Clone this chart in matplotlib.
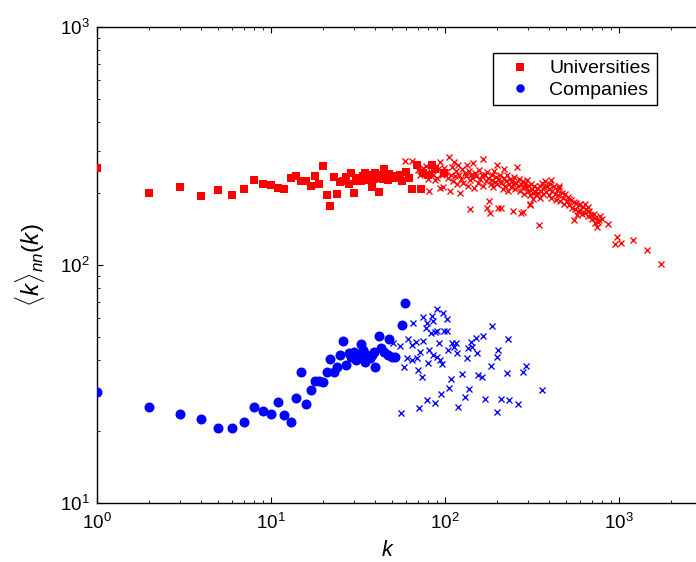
import math
import matplotlib
matplotlib.use("Agg")
import matplotlib.pyplot as plt
from matplotlib.ticker import LogLocator, FuncFormatter, NullFormatter

plt.rcParams['font.family'] = ['Liberation Sans', 'DejaVu Sans']
plt.rcParams['mathtext.fontset'] = 'custom'
plt.rcParams['mathtext.rm'] = 'Liberation Sans'
plt.rcParams['mathtext.it'] = 'Liberation Sans:italic'
plt.rcParams['mathtext.bf'] = 'Liberation Sans:bold'

# ---------------- data ----------------
uni_k = [1, 2, 3, 4, 5, 6, 7, 8, 9, 10, 11, 12, 13, 14, 15, 16, 17, 18, 19, 20,
         21, 22, 23, 24, 25, 26, 27, 28, 29, 30, 31, 32, 33, 34, 35, 36, 37, 38, 39, 40,
         41, 42, 43, 44, 45, 46, 47, 48, 50, 52, 55, 57, 60, 62, 65, 69, 73, 75, 80, 85,
         88, 99]
uni_v = [256, 200, 213, 195, 207, 197, 208, 228, 219, 217, 211, 208, 233, 237, 226, 226, 215, 237, 220, 261,
         196, 177, 235, 198, 224, 226, 235, 219, 244, 201, 226, 231, 225, 236, 243, 228, 240, 212, 230, 244,
         233, 203, 238, 229, 252, 232, 227, 241, 236, 231, 240, 226, 245, 232, 208, 263, 208, 244, 238, 263,
         252, 244]

comp_k = [1, 2, 3, 4, 5, 6, 7, 8, 9, 10, 11, 12, 13, 14, 15, 16, 17, 18, 19, 20,
          21, 22, 23, 24, 25, 26, 27, 28, 29, 30, 31, 32, 33, 34, 35, 36, 37, 38, 39, 40,
          42, 43, 45, 47, 48, 50, 52, 57, 59]
comp_v = [29.4, 25.4, 23.7, 22.5, 20.6, 20.7, 22.0, 25.2, 24.4, 23.7, 26.6, 23.4, 21.9, 27.6, 35.6, 26.0,
          29.8, 32.6, 32.7, 32.2, 35.6, 40.2, 35.6, 37.2, 41.9, 48.1, 38.0, 42.6, 41.0, 43.2, 39.9, 42.0,
          46.6, 44.0, 39.3, 42.0, 40.5, 41.9, 43.0, 37.4, 50.3, 44.7, 43.2, 41.9, 49.0, 41.0, 41.2, 56.0, 69.5]

uni_x_k = [59, 65, 70, 72, 75, 78, 80, 81, 83, 86, 88, 90, 92, 94, 94, 96, 98, 99,
           102, 104, 106, 107, 108, 110, 111, 113, 115, 116, 118, 120, 121, 122, 124, 126, 128, 130,
           132, 134, 136, 138, 139, 140, 142, 144, 146, 148, 150,
           152, 155, 158, 160, 163, 165, 167, 170, 172, 174, 176, 178, 180, 182, 184, 186, 188, 190,
           192, 195, 197, 199, 200, 203, 205, 207, 210, 212, 215, 218, 220, 222, 225, 228, 230, 233,
           236, 240, 243, 246, 248, 250,
           253, 256, 260, 263, 266, 270, 273, 276, 280, 283, 286, 290, 293, 297, 300, 304, 308, 310,
           313, 317, 320, 323, 327, 330, 335, 340, 345, 350, 352, 281, 309, 408,
           355, 360, 362, 368, 372, 378, 382, 388, 395, 400, 405, 410, 416, 422, 428, 434, 440, 448,
           455, 462, 470, 478, 486, 494, 502, 510, 520, 530, 540, 550, 560, 570, 580, 590, 600, 612,
           625, 638, 650, 662, 675, 690, 705, 720, 735, 748, 760, 771, 785, 800, 553, 598, 640, 456,
           516, 578, 665, 730,
           871, 952, 974, 1035, 1203, 1449, 1742]
uni_x_v = [273, 273, 250, 238, 255, 261, 230, 204, 245, 240, 228, 231, 252, 271, 210, 238, 213, 255,
           246, 232, 283, 204, 240, 258, 225, 271, 236, 248, 218, 263, 240, 200, 230, 252, 222, 244,
           236, 263, 215, 248, 172, 228, 240, 232, 267, 210, 244,
           236, 222, 250, 230, 240, 280, 214, 238, 226, 173, 245, 232, 185, 165, 220, 240, 228, 212,
           248, 224, 235, 263, 218, 173, 230, 240, 173, 222, 208, 254, 232, 215, 225, 238, 205, 220,
           230, 212, 226, 169, 218, 235,
           208, 222, 258, 214, 230, 204, 218, 166, 226, 210, 198, 220, 212, 228, 205, 215, 196, 179,
           220, 208, 200, 190, 214, 203, 196, 210, 200, 147, 192, 167, 181, 228,
           215, 205, 222, 198, 212, 226, 202, 214, 196, 208, 220, 192, 204, 214, 198, 188, 206, 196,
           210, 186, 200, 192, 180, 198, 186, 194, 178, 188, 174, 184, 172, 182, 168, 178, 170, 164,
           175, 166, 172, 160, 168, 162, 156, 164, 158, 145, 152, 154, 160, 156, 155, 180, 180, 214,
           190, 162, 176, 150,
           149, 122, 131, 124, 127, 116, 101]

comp_x_k = [50.2, 55.3, 58.6, 56.1, 61.8, 65.5, 64.6, 68.4, 60.5, 64.6, 69.0, 70.5, 73.8, 72.1, 75.4,
            75.4, 78.1, 78.8, 80.5, 81.5, 83.1, 84.2, 85.3, 86.0, 88.0, 89.9, 90.6, 90.6, 93.1, 94.0,
            96.1, 98.2, 99.1, 102.6, 102.6, 71.5, 79.4, 88.0, 94.8, 105.9, 104.9, 108.2, 109.7, 113.0,
            116.1, 117.2, 119.7, 126.2, 131.3, 134.9, 135.6, 137.4, 141.0, 142.9, 151.4, 152.7, 154.8,
            163.2, 166.7, 170.5, 184.5, 187.8, 199.0, 200.6, 203.2, 209.9, 227.2, 232.1, 235.0, 264.9,
            280.7, 293.2, 360.9]
comp_x_v = [47.2, 45.7, 37.2, 23.8, 48.7, 56.9, 46.1, 47.6, 40.6, 39.9, 40.6, 36.2, 34.0, 43.2, 60.7,
            48.1, 54.2, 56.9, 38.8, 44.0, 52.0, 61.1, 58.3, 41.9, 52.5, 40.9, 65.3, 52.9, 46.9, 39.9,
            38.4, 62.7, 52.9, 59.2, 52.9, 25.0, 27.1, 26.2, 28.7, 30.3, 44.0, 33.1, 46.9, 45.1,
            47.2, 42.6, 25.2, 34.8, 28.0, 40.6, 44.7, 30.1, 47.3, 45.1, 49.2, 42.6, 34.4,
            33.7, 50.3, 27.4, 37.8, 55.6, 41.2, 24.2, 44.0, 27.4, 35.1, 48.7, 27.1, 26.0,
            35.6, 37.8, 29.9]

legend_labels = ['Universities', 'Companies']
x_label = r'$k$'
y_label = r'$\langle k\rangle_{nn}(k)$'

# ---------------- figure ----------------
fig = plt.figure(figsize=(6.96, 5.62), dpi=100)
ax = fig.add_axes([96.7 / 696, 59 / 562, 696 / 696, 476 / 562])

h1, = ax.plot(uni_k, uni_v, 's', color='#ff0000', markersize=6.0, markeredgewidth=0,
              linestyle='none', label=legend_labels[0], zorder=3)
h2, = ax.plot(comp_k, comp_v, 'o', color='#0000ff', markersize=7.2, markeredgewidth=0,
              linestyle='none', label=legend_labels[1], zorder=3)
ax.plot(uni_x_k, uni_x_v, 'x', color='#ff0000', markersize=4.0, markeredgewidth=0.95,
        linestyle='none', zorder=4)
ax.plot(comp_x_k, comp_x_v, 'x', color='#0000ff', markersize=4.0, markeredgewidth=0.95,
        linestyle='none', zorder=4)

ax.set_xscale('log')
ax.set_yscale('log')
ax.set_xlim(1, 1e4)
ax.set_ylim(10, 1000)

ax.xaxis.set_major_locator(LogLocator(base=10, numticks=10))
ax.yaxis.set_major_locator(LogLocator(base=10, numticks=10))
ax.xaxis.set_minor_locator(LogLocator(base=10, subs=range(2, 10), numticks=20))
ax.yaxis.set_minor_locator(LogLocator(base=10, subs=range(2, 10), numticks=20))
ax.xaxis.set_minor_formatter(NullFormatter())
ax.yaxis.set_minor_formatter(NullFormatter())


def fmt(v, pos):
    e = int(round(math.log10(v)))
    if e > 3:
        return ''
    return r'$\mathregular{10^{%d}}$' % e


ax.xaxis.set_major_formatter(FuncFormatter(fmt))
ax.yaxis.set_major_formatter(FuncFormatter(fmt))

ax.tick_params(which='both', direction='in', top=True, right=True, colors='black',
               labelsize=13.5)
ax.tick_params(which='major', length=4.5, width=0.8)
ax.tick_params(axis='x', which='major', pad=7)
ax.tick_params(axis='y', which='major', pad=5)
ax.tick_params(which='minor', length=2.3, width=0.6)
for s in ax.spines.values():
    s.set_linewidth(1.0)
    s.set_color('black')

ax.set_xlabel(x_label, fontsize=15.5)
ax.xaxis.set_label_coords((388 - 96.7) / 696, -0.078)
ax.set_ylabel(y_label, fontsize=17.5, labelpad=9)

leg = ax.legend(handles=[h1, h2], loc='upper left',
                bbox_to_anchor=(493.3 / 696, 1 - 53.3 / 562), bbox_transform=fig.transFigure,
                fontsize=14, frameon=True, fancybox=False, framealpha=1, edgecolor='black',
                borderpad=0.33, handlelength=2.1, handletextpad=0.45, labelspacing=0.2,
                markerscale=0.85, borderaxespad=0)
leg.get_frame().set_linewidth(1.0)

fig.savefig('out.png', dpi=100)
